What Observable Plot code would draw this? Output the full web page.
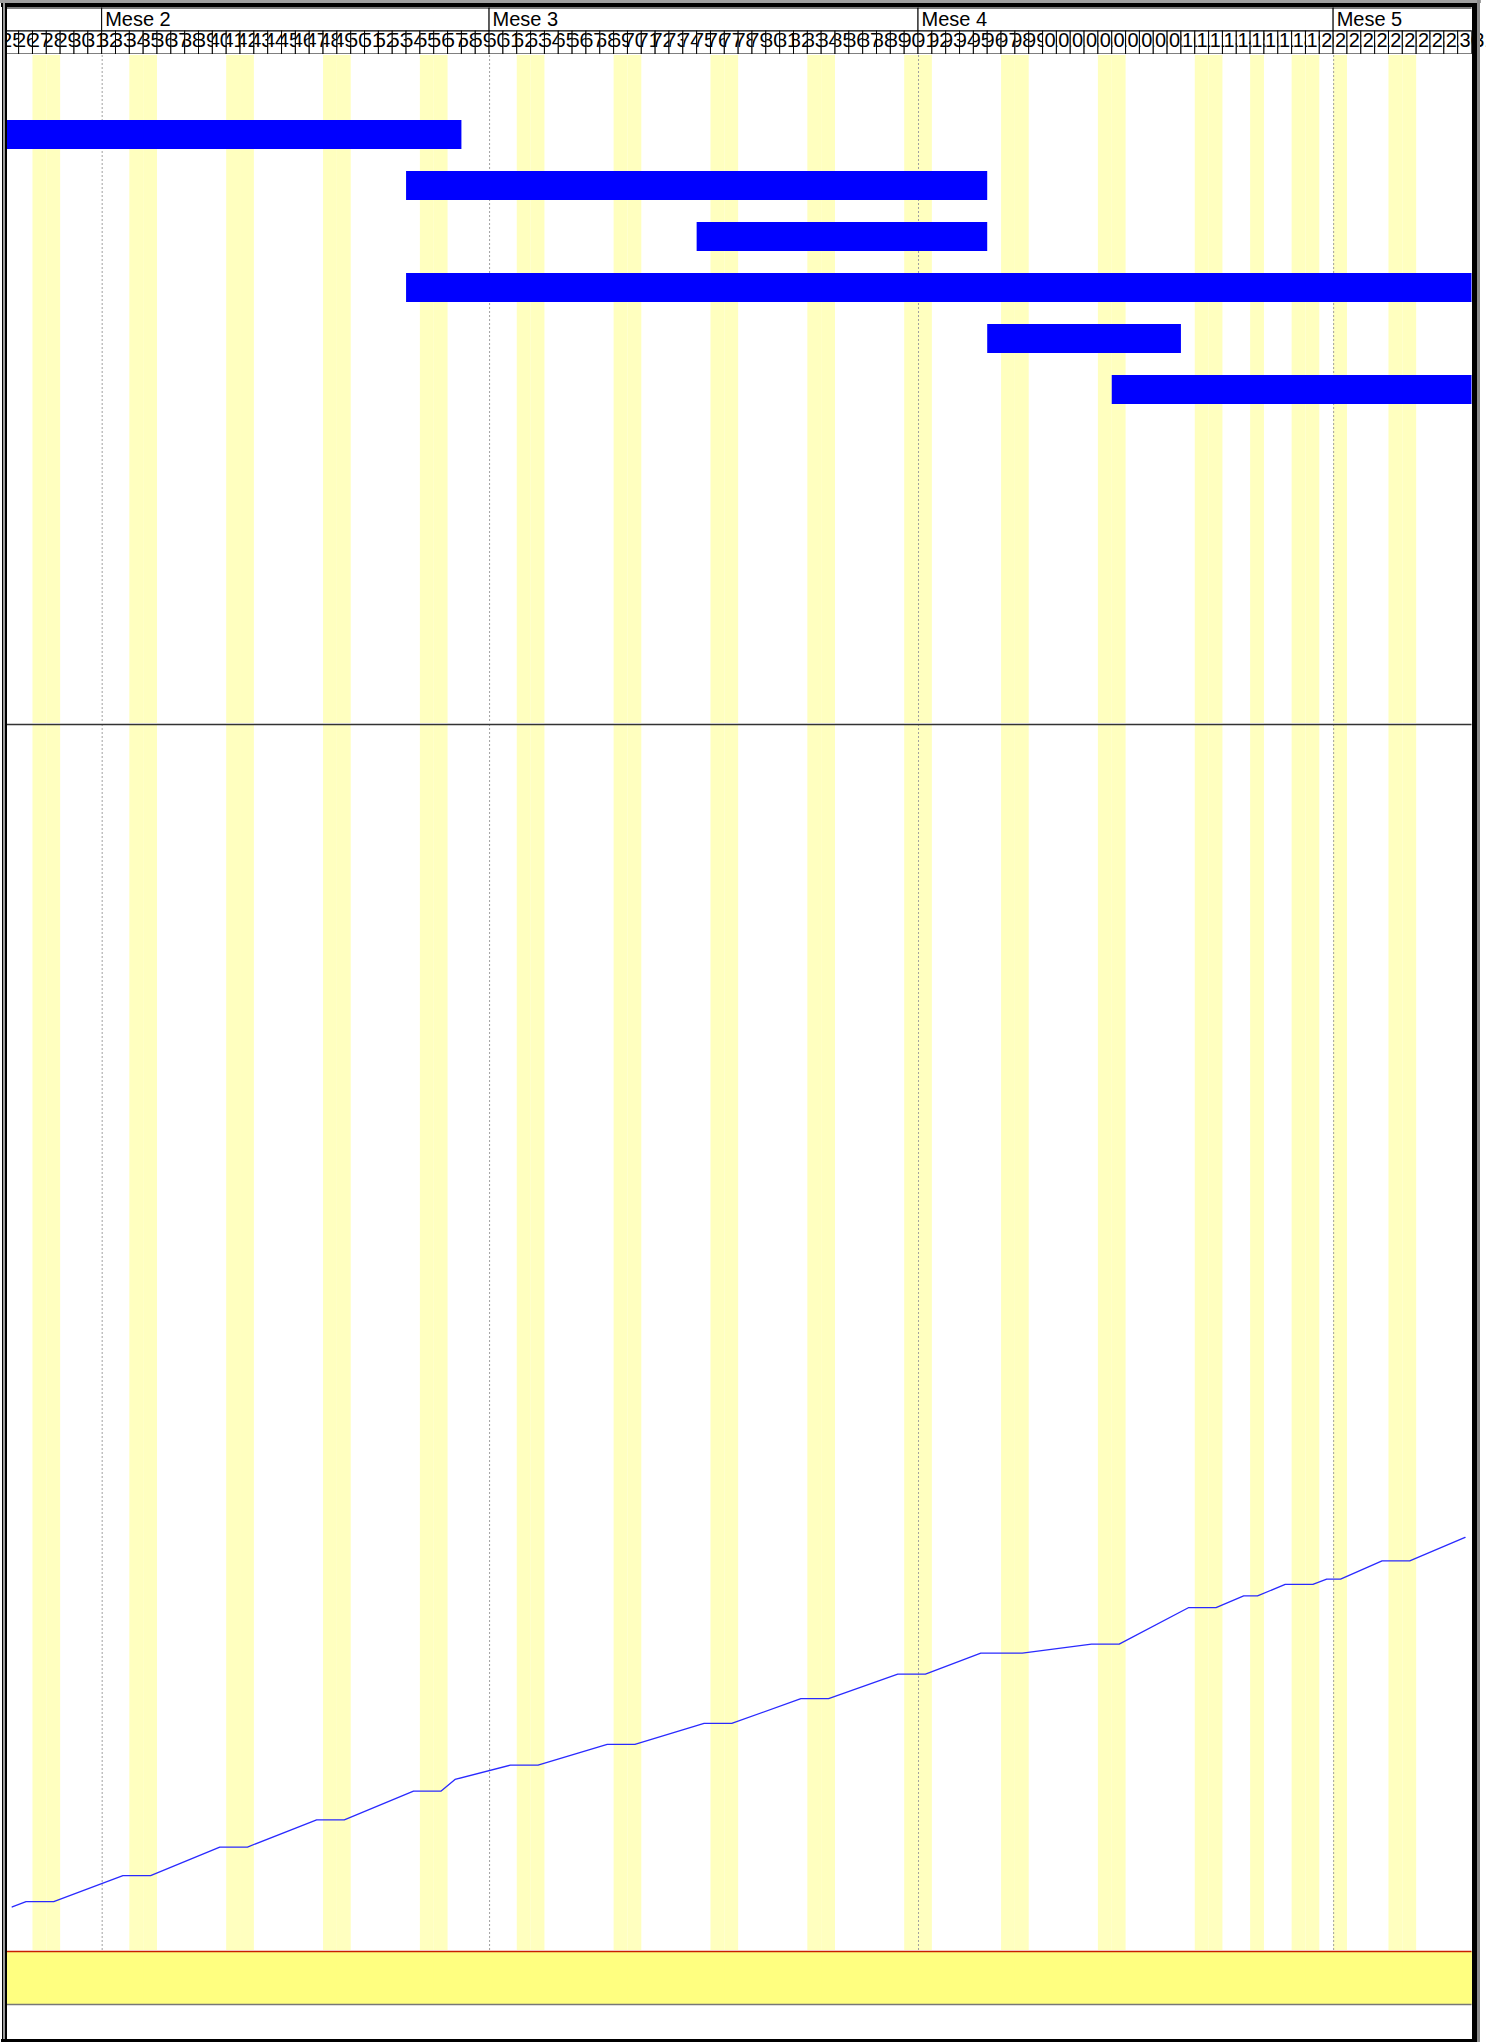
<!DOCTYPE html>
<html>
<head>
<meta charset="utf-8">
<script src="https://cdn.jsdelivr.net/npm/d3@7"></script>
<script src="https://cdn.jsdelivr.net/npm/@observablehq/plot@0.6"></script>
<style>
html, body { margin: 0; padding: 0; background: #fff; overflow: hidden; }
#wrap { position: relative; width: 1491px; height: 2042px; background: #fff; }
#wrap svg { display: block; }
.ln { position: absolute; pointer-events: none; }
</style>
</head>
<body>
<div id="wrap"></div>
<script>
// ---------- data ----------
const monthNames  = ["Mese 1", "Mese 2", "Mese 3", "Mese 4", "Mese 5"];
const monthStarts = [1, 32, 60, 91, 121];     // day of year
const monthEnds   = [32, 60, 91, 121, 152];
const firstDay = 25, lastDay = 131;            // visible range (day of year)
// Saturdays, Sundays and holidays (25 April, 1 May)
const nonWorkingDays = [27, 28, 34, 35, 41, 42, 48, 49, 55, 56, 62, 63, 69, 70, 76, 77,
                        83, 84, 90, 91, 97, 98, 104, 105, 111, 112, 115, 118, 119, 121, 125, 126];
const taskRowCount = 13;
const taskRows   = [1, 2, 3, 4, 5, 6];
const taskStarts = [20, 54, 75, 54, 96, 105];
const taskEnds   = [58, 96, 96, 140, 110, 140];
const progressDays   = [25, 26, 28, 33, 35, 40, 42, 47, 49, 54, 56, 57, 61, 63, 68, 70, 75, 77, 82, 84,
                        89, 91, 95, 98, 103, 105, 110, 112, 114, 115, 117, 119, 120, 121, 124, 126, 130];
const progressValues = [3.55, 3.98, 3.98, 6.10, 6.10, 8.44, 8.44, 10.66, 10.66, 13.0, 13.0, 13.95, 15.12, 15.12,
                        16.82, 16.82, 18.52, 18.52, 20.54, 20.54, 22.55, 22.55, 24.25, 24.25, 24.99, 24.99,
                        27.96, 27.96, 28.92, 28.92, 29.87, 29.87, 30.29, 30.29, 31.78, 31.78, 33.69];

// ---------- tables ----------
const months = monthNames.map((name, i) => ({name, start: monthStarts[i], end: monthEnds[i]}));
const days = d3.range(firstDay, lastDay + 1);
const tasks = taskRows.map((row, i) => ({row, start: taskStarts[i], end: taskEnds[i]}));
const progress = progressDays.map((day, i) => ({day, value: progressValues[i]}));

// ---------- style ----------
const W = 1491, ML = 4.8, MR = 19.5;
const FONT = "'Liberation Sans', Arial, sans-serif";
const STRIPE = "#ffffbf";
const xOpt = {domain: [firstDay, lastDay], axis: null};
const base = {width: W, marginLeft: ML, marginRight: MR,
  style: {background: "transparent", fontFamily: FONT, overflow: "visible"}};
const stripes = () => Plot.barX(nonWorkingDays, {x1: d => d, x2: d => d + 1, fill: STRIPE});
const monthRules = () => Plot.ruleX(monthStarts.slice(1), {stroke: "#a0a0a0", strokeWidth: 1, strokeDasharray: "2,2"});

const wrap = document.getElementById("wrap");

// ---------- header ----------
const header = Plot.plot({
  ...base, height: 55, marginTop: 7, marginBottom: 1,
  x: xOpt,
  y: {domain: ["mese", "giorno"], axis: null, padding: 0},
  marks: [
    Plot.barX(months, {x1: "start", x2: "end", y: () => "mese", fill: "white", stroke: "black", strokeWidth: 1, clip: true}),
    Plot.barX(days, {x1: d => d, x2: d => d + 1, y: () => "giorno", fill: "white", stroke: "black", strokeWidth: 1, clip: true}),
    Plot.text(months, {x: "start", y: () => "mese", text: "name", textAnchor: "start", dx: 3,
      fontSize: 20, fill: "black", clip: true}),
    Plot.text(days, {x: d => d + 0.5, y: () => "giorno", text: d => String(d), dy: -2,
      fontSize: 20, fill: "black", ariaDescription: "day labels"})
  ]
});
wrap.appendChild(header);

// clip each day label to its own cell
(function clipDayLabels() {
  const svg = d3.select(header);
  const xs = header.scale("x");
  const defs = svg.insert("svg:defs", ":first-child");
  svg.selectAll('g[aria-description="day labels"] text').each(function () {
    const d = +this.textContent;
    const x1 = xs.apply(d), x2 = xs.apply(d + 1);
    const id = "dayclip-" + d;
    defs.append("svg:clipPath").attr("id", id)
      .append("svg:rect").attr("x", x1).attr("y", -20).attr("width", x2 - x1).attr("height", 100);
    const g = document.createElementNS("http://www.w3.org/2000/svg", "g");
    g.setAttribute("clip-path", `url(#${id})`);
    this.parentNode.insertBefore(g, this);
    g.appendChild(this);
  });
})();

// ---------- tasks ----------
wrap.appendChild(Plot.plot({
  ...base, height: 668, marginTop: 0, marginBottom: 0,
  x: xOpt,
  y: {domain: d3.range(taskRowCount), axis: null, paddingInner: 0.44, paddingOuter: 0.22},
  marks: [
    stripes(),
    monthRules(),
    Plot.barX(tasks, {x1: "start", x2: "end", y: "row", fill: "#0000ff", clip: true})
  ]
}));

// ---------- progress ----------
wrap.appendChild(Plot.plot({
  ...base, height: 1227, marginTop: 1, marginBottom: 0,
  x: xOpt,
  y: {domain: [0, 100], axis: null},
  marks: [
    stripes(),
    monthRules(),
    Plot.ruleY([100], {stroke: "#333", strokeWidth: 1.5}),
    Plot.line(progress, {x: d => d.day + 0.5, y: "value", stroke: "#2a2aff", strokeWidth: 1.3})
  ]
}));

// ---------- bottom band ----------
wrap.appendChild(Plot.plot({
  ...base, height: 55, marginTop: 1, marginBottom: 1,
  x: xOpt,
  y: {domain: [0, 1], axis: null},
  marks: [
    Plot.frame({fill: "#ffff80", stroke: null}),
    Plot.ruleY([1], {stroke: "#c82000", strokeWidth: 1.5}),
    Plot.ruleY([0], {stroke: "#777", strokeWidth: 1.5})
  ]
}));
const spacer = document.createElement("div");
spacer.style.height = "37px";
wrap.appendChild(spacer);

// ---------- outer frame ----------
function line(css) {
  const d = document.createElement("div");
  d.className = "ln";
  Object.assign(d.style, css);
  wrap.appendChild(d);
}
line({left: "0px", top: "0px", width: "1481px", height: "3px", background: "#a0a0a0"});
line({left: "1px", top: "3px", width: "1476px", height: "4px", background: "#000"});
line({left: "1.5px", top: "3px", width: "1.5px", height: "2039px", background: "#000"});
line({left: "3px", top: "3px", width: "1.7px", height: "2039px", background: "#9a9a9a"});
line({left: "4.7px", top: "3px", width: "2px", height: "2039px", background: "#000"});
line({left: "1471.7px", top: "3px", width: "5px", height: "2039px", background: "#000"});
line({left: "1476.7px", top: "0px", width: "3.3px", height: "2042px", background: "#8a8a8a"});
line({left: "1px", top: "2039px", width: "1476px", height: "3px", background: "#000"});
</script>
</body>
</html>
